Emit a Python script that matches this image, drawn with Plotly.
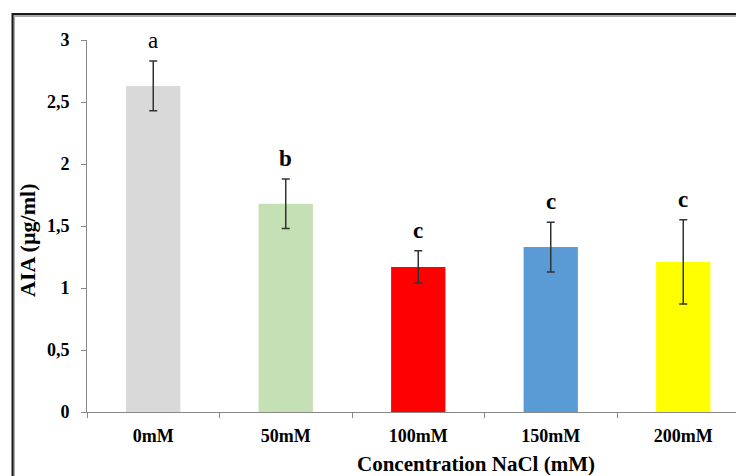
import plotly.graph_objects as go

categories = ["0mM", "50mM", "100mM", "150mM", "200mM"]
values = [2.63, 1.68, 1.17, 1.33, 1.21]
errors = [0.20, 0.20, 0.13, 0.20, 0.34]
letters = ["a", "b", "c", "c", "c"]
letter_bold = [False, True, True, True, True]
colors = ["#d9d9d9", "#c5e0b4", "#ff0000", "#5b9bd5", "#ffff00"]
ytick_vals = [0, 0.5, 1, 1.5, 2, 2.5, 3]
ytick_text = ["0", "0,5", "1", "1,5", "2", "2,5", "3"]

FONT = "Liberation Serif"
W, H = 736, 476
L, T, B = 87, 40, 64
plot_w = W - L
cat_px = 132.5
x_hi = plot_w / cat_px - 0.5

fig = go.Figure()
fig.add_trace(go.Bar(
    x=categories, y=values, marker=dict(color=colors, line=dict(width=0)),
    width=0.41,
    error_y=dict(type="data", array=errors, visible=True, color="#333333",
                 thickness=1.5, width=4),
    showlegend=False,
))

for c, v, e, lt, bd in zip(categories, values, errors, letters, letter_bold):
    fig.add_annotation(
        x=c, y=v + e, yanchor="bottom", yshift=6, showarrow=False,
        text=("<b>%s</b>" % lt) if bd else lt,
        font=dict(family=FONT, size=23, color="black"),
    )

fig.update_layout(
    width=W, height=H,
    margin=dict(l=L, r=0, t=T, b=B),
    paper_bgcolor="white", plot_bgcolor="white",
    bargap=0.59,
    font=dict(family=FONT, size=18, color="black"),
    xaxis=dict(
        range=[-0.5, x_hi], tickson="boundaries", ticks="outside",
        ticklen=5, tickcolor="#888888", showline=True, linecolor="#888888",
        linewidth=1, showgrid=False, zeroline=False,
        tickfont=dict(family=FONT, size=18, color="black"),
        ticklabelstandoff=7,
        tickprefix="<b>", ticksuffix="</b>",
    ),
    yaxis=dict(
        range=[0, 3], tickvals=ytick_vals,
        ticktext=["<b>%s</b>" % t for t in ytick_text],
        ticks="outside", ticklen=5, tickcolor="#888888", showline=True,
        linecolor="#888888", linewidth=1, showgrid=False, zeroline=False,
        tickfont=dict(family=FONT, size=18, color="black"),
        ticklabelstandoff=8,
    ),
)

plot_h = H - T - B
def px_x(p):
    return (p - L) / plot_w
def px_y(p):
    return (H - B - p) / plot_h

# axis titles
fig.add_annotation(
    xref="paper", yref="paper", x=px_x(476), y=px_y(464),
    xanchor="center", yanchor="middle",
    text="<b>Concentration NaCl (mM)</b>", showarrow=False,
    font=dict(family=FONT, size=21, color="black"),
)
fig.add_annotation(
    xref="paper", yref="paper", x=px_x(27), y=px_y(240), textangle=-90,
    xanchor="center", yanchor="middle",
    text="<b>AIA (µg/ml)</b>", showarrow=False,
    font=dict(family=FONT, size=22, color="black"),
)

# outer frame (extends beyond right/bottom edges)
fig.add_shape(type="rect", xref="paper", yref="paper",
              x0=px_x(14), x1=px_x(800), y0=px_y(560), y1=px_y(16),
              line=dict(color="#aaaaaa", width=2))
fig.add_shape(type="rect", xref="paper", yref="paper",
              x0=px_x(12.5), x1=px_x(800), y0=px_y(560), y1=px_y(14),
              line=dict(color="#1a1a1a", width=2))

fig.write_html("out.html")
